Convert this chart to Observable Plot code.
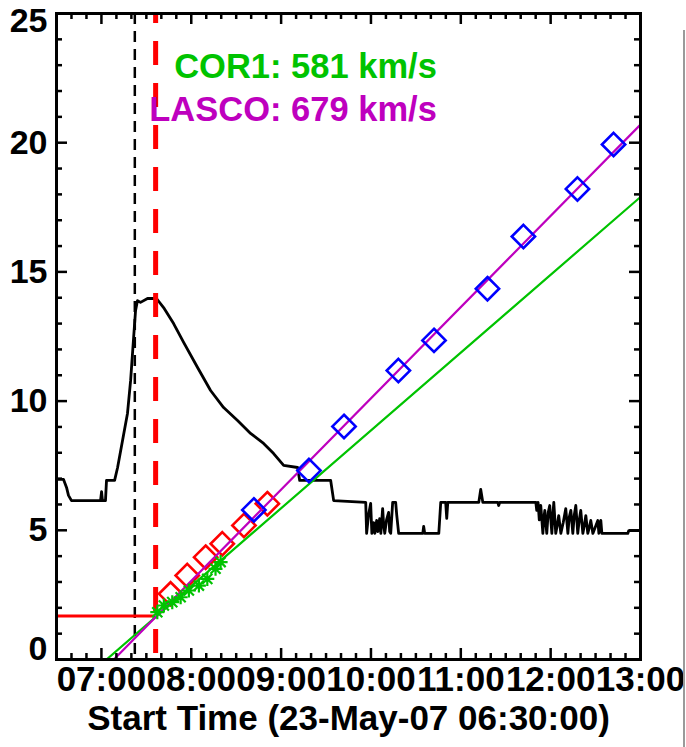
<!DOCTYPE html>
<html><head><meta charset="utf-8">
<script src="https://cdn.jsdelivr.net/npm/d3@7"></script>
<script src="https://cdn.jsdelivr.net/npm/@observablehq/plot@0.6"></script>
<style>
body{margin:0;background:#fff;}
#wrap{position:relative;width:686px;height:747px;overflow:hidden;background:#fff;}
#edge{position:absolute;left:683px;top:30px;width:2px;height:717px;background:#9a9a9a;}
</style></head><body><div id="wrap"><div id="edge"></div></div>
<script>
// ---- data (x in minutes after 23-May-07 06:30:00, y in solar radii) ----
const goesCurve = [[0,6.97],[0.7,6.97],[4.7,6.97],[6.7,6.66],[8.0,6.35],[10.0,6.15],[29.4,6.15],[30.1,6.50],[30.7,6.15],[32.7,6.15],[33.4,6.93],[38.8,6.93],[40.8,7.43],[44.1,8.48],[47.4,9.52],[49.5,10.80],[51.5,12.46],[52.8,13.51],[54.1,13.89],[56.1,13.82],[60.8,13.97],[66.8,13.97],[71.5,13.62],[78.2,13.00],[84.9,12.27],[94.2,11.30],[102.9,10.41],[111.6,9.75],[120.9,9.25],[129.6,8.75],[138.3,8.36],[145.0,7.97],[151.7,7.51],[161.0,7.43],[162.4,6.93],[183.1,6.93],[185.1,6.15],[206.5,6.08],[207.1,4.88],[208.4,5.60],[209.8,6.04],[210.6,4.88],[211.8,5.30],[212.6,4.88],[213.8,5.38],[214.6,4.95],[215.8,5.45],[216.6,4.88],[217.8,5.84],[218.5,5.20],[219.2,4.88],[220.4,5.40],[221.8,5.69],[222.5,4.95],[223.2,4.88],[224.5,6.08],[226.5,6.08],[227.2,5.60],[228.5,4.88],[244.6,4.88],[245.2,5.15],[245.9,4.88],[255.3,4.88],[256.6,6.08],[259.9,6.08],[260.6,5.46],[261.3,6.08],[282.0,6.08],[283.3,6.58],[284.7,6.08],[294.7,6.08],[295.3,5.96],[296.0,6.08],[320.1,6.08],[320.7,5.77],[321.6,6.08],[322.4,5.40],[323.4,5.96],[324.8,4.88],[325.5,5.50],[326.1,5.77],[327.4,4.88],[328.4,5.70],[329.4,5.96],[330.8,4.88],[331.5,5.60],[332.1,6.08],[333.4,4.88],[334.4,5.20],[335.4,5.57],[336.8,4.88],[338.4,5.30],[340.1,5.84],[341.5,4.88],[342.4,5.50],[343.5,5.77],[344.8,4.88],[345.8,5.60],[346.8,5.96],[348.1,4.88],[349.1,5.40],[350.1,5.77],[351.5,4.88],[352.5,5.20],[353.5,5.57],[354.8,4.88],[355.8,5.10],[356.8,5.38],[358.2,4.88],[361.5,5.38],[362.2,4.88],[363.5,5.38],[364.2,4.88],[368.9,4.88],[381.5,4.88],[382.2,4.99],[390,4.99]];

const cor1Min = [67.3,71.7,77.3,82.9,88.4,95.1,100.7,106.2,109.6];
const cor1Val = [1.83,2.09,2.22,2.41,2.67,2.86,3.12,3.51,3.77];
const cor2Min = [76.2,87.3,99.6,110.7,125.2,140.8];
const cor2Val = [2.54,3.25,3.96,4.48,5.19,6.03];
const lascoMin = [131.8,168.6,192.0,228.3,252.1,287.8,311.8,347.9,372.0];
const lascoVal = [5.79,7.31,9.02,11.18,12.35,14.35,16.37,18.21,19.93];

const cor1FitMin = [33.4,390]; const cor1FitVal = [0,17.9];
const lascoFitMin = [38.3,390]; const lascoFitVal = [0,20.7];

const flareOnsetMin = 52.3;      // black dashed
const launchMin = 66.2;          // red dashed
const launchHeight = 1.68;       // red horizontal
const launchDashBottom = 0.23;

const annotations = ["COR1: 581 km/s","LASCO: 679 km/s"];
const annotMin = [254,254];
const annotVal = [22.95,21.25];

const yMajor = [0,5,10,15,20,25];
const yTickLabels = ["0","5","10","15","20","25"];
const yMinor = [1,2,3,4,6,7,8,9,11,12,13,14,16,17,18,19,21,22,23,24];
const xMajor = [30,90,150,210,270,330,390];
const xTickLabels = ["07:00","08:00","09:00","10:00","11:00","12:00","13:00"];
const xMinor = [10,20,40,50,60,70,80,100,110,120,130,140,160,170,180,190,200,220,230,240,250,260,280,290,300,310,320,340,350,360,370,380];
const xTitle = "Start Time (23-May-07 06:30:00)";

// ---- layout ----
const W = 686, H = 747, mL = 56, mR = 46, mT = 13, mB = 88;
const pw = W - mL - mR, ph = H - mT - mB;
const GREEN = "rgb(0,195,0)", MAGENTA = "rgb(190,0,190)", BLUE = "rgb(0,0,255)", RED = "rgb(255,0,0)";
const font = "'Liberation Sans', Arial, Helvetica, sans-serif";

const starSymbol = {draw(ctx, size) {
  const r = Math.sqrt(size / Math.PI), d = r * 0.72;
  ctx.moveTo(-r, 0); ctx.lineTo(r, 0);
  ctx.moveTo(0, -r); ctx.lineTo(0, r);
  ctx.moveTo(-d, -d); ctx.lineTo(d, d);
  ctx.moveTo(-d, d); ctx.lineTo(d, -d);
}};

const cor1 = cor1Min.map((m, i) => ({m, v: cor1Val[i]}));
const cor2 = cor2Min.map((m, i) => ({m, v: cor2Val[i]}));
const lasco = lascoMin.map((m, i) => ({m, v: lascoVal[i]}));
const cor1Fit = cor1FitMin.map((m, i) => ({m, v: cor1FitVal[i]}));
const lascoFit = lascoFitMin.map((m, i) => ({m, v: lascoFitVal[i]}));
const annot = annotations.map((t, i) => ({t, m: annotMin[i], v: annotVal[i], c: i === 0 ? GREEN : MAGENTA}));

const tickStyle = {stroke: "black", strokeWidth: 2.5};
const lbl = {fontSize: 34, fontWeight: "bold", fill: "black"};

const chart = Plot.plot({
  width: W, height: H, marginLeft: mL, marginRight: mR, marginTop: mT, marginBottom: mB,
  x: {domain: [0, 390], axis: null},
  y: {domain: [0, 25], axis: null},
  style: {fontFamily: font, background: "white", overflow: "visible"},
  marks: [
    Plot.line(goesCurve, {x: d => d[0], y: d => d[1], stroke: "black", strokeWidth: 2.8, clip: true}),
    Plot.ruleX([flareOnsetMin], {x: d => d, stroke: "black", strokeWidth: 2.5, strokeDasharray: "11,7"}),
    Plot.ruleY([launchHeight], {y: d => d, x1: 0, x2: launchMin, stroke: RED, strokeWidth: 3}),
    Plot.ruleX([launchMin], {x: d => d, y1: launchDashBottom, y2: 25, stroke: RED, strokeWidth: 5, strokeDasharray: "24,18"}),
    Plot.dot(cor2, {x: "m", y: "v", symbol: "diamond2", r: 10.5, stroke: RED, strokeWidth: 2.6, fill: "none"}),
    Plot.line(cor1Fit, {x: "m", y: "v", stroke: GREEN, strokeWidth: 2.2, clip: true}),
    Plot.line(lascoFit, {x: "m", y: "v", stroke: MAGENTA, strokeWidth: 2.2, clip: true}),
    Plot.dot(cor1, {x: "m", y: "v", symbol: starSymbol, r: 7, stroke: GREEN, strokeWidth: 2.2, fill: "none"}),
    Plot.dot(lasco, {x: "m", y: "v", symbol: "diamond2", r: 10.5, stroke: BLUE, strokeWidth: 2.6, fill: "none"}),
    Plot.text(annot, {x: "m", y: "v", text: "t", fill: "c", textAnchor: "end", fontSize: 34.5, fontWeight: "bold"}),
    Plot.frame({stroke: "black", strokeWidth: 3}),
    // ticks, inward on all four sides
    Plot.tickY(yMajor, {y: d => d, insetRight: pw - 11, ...tickStyle}),
    Plot.tickY(yMajor, {y: d => d, insetLeft: pw - 11, ...tickStyle}),
    Plot.tickY(yMinor, {y: d => d, insetRight: pw - 6, ...tickStyle}),
    Plot.tickY(yMinor, {y: d => d, insetLeft: pw - 6, ...tickStyle}),
    Plot.tickX(xMajor, {x: d => d, insetTop: ph - 11, ...tickStyle}),
    Plot.tickX(xMajor, {x: d => d, insetBottom: ph - 11, ...tickStyle}),
    Plot.tickX(xMinor, {x: d => d, insetTop: ph - 6, ...tickStyle}),
    Plot.tickX(xMinor, {x: d => d, insetBottom: ph - 6, ...tickStyle}),
    // tick labels
    Plot.text(yMajor.slice(1, 5), {y: d => d, text: d => yTickLabels[yMajor.indexOf(d)], frameAnchor: "left", textAnchor: "end", dx: -9, ...lbl}),
    Plot.text([yMajor[0]], {y: d => d, text: d => yTickLabels[0], frameAnchor: "left", textAnchor: "end", dx: -9, dy: -10, ...lbl}),
    Plot.text([yMajor[5]], {y: d => d, text: d => yTickLabels[5], frameAnchor: "left", textAnchor: "end", dx: -9, dy: 8, ...lbl}),
    Plot.text(xMajor, {x: d => d, text: (d, i) => xTickLabels[i], frameAnchor: "bottom", dy: 31, ...lbl, fontSize: 35}),
    Plot.text([xTitle], {text: d => d, frameAnchor: "bottom", dy: 70, ...lbl, fontSize: 35})
  ]
});
document.getElementById("wrap").appendChild(chart);
</script>
</body></html>
